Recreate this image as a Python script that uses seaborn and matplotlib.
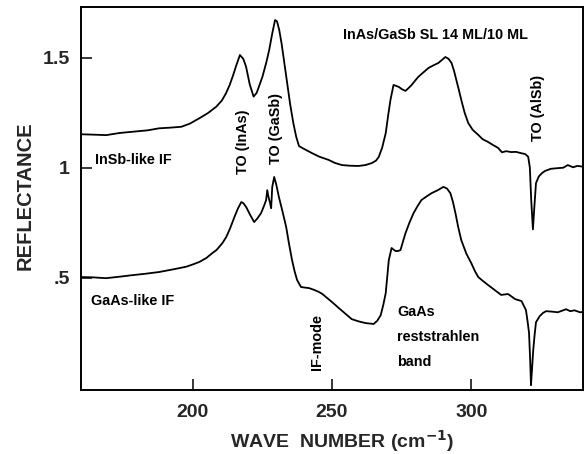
import matplotlib
matplotlib.use("Agg")
import matplotlib.pyplot as plt
import numpy as np
import pandas as pd
import seaborn as sns

# Wave number (cm^-1) and reflectance for the two interface configurations
wn_insb = [160, 165, 169, 174, 179, 184, 188, 192, 196, 199, 202.5, 205.5, 208.5,
           210.5, 212, 213.3, 214.4, 215.7, 217, 218.2, 219.2, 220.5, 221.9, 223,
           224, 225.1, 226.5, 227.5, 228.6, 229.6, 230.3, 231.1, 232, 233, 234, 235,
           236.2, 237.2, 238.2, 240.5, 242.9, 245.5, 248.9, 251, 253.6, 256.5, 259.6,
           262, 264.3, 265.8, 266.8, 268, 269.3, 270.2, 271, 272.1, 273, 274, 275.2,
           276.4, 277.5, 278.6, 280, 281, 282.8, 284.6, 286.4, 288.2, 289.5, 290.7,
           291.8, 292.9, 293.8, 294.6, 295.5, 296.4, 297.6, 298.9, 300.5, 302.5, 304,
           306, 307.8, 309.6, 311, 312.5, 314.3, 316, 317.9, 319.3, 320.4, 321, 321.5,
           322.1, 322.6, 323.2, 324.2, 325.3, 326.4, 328.5, 331, 333, 334.6, 336.5,
           338, 340]
r_insb = [1.152, 1.150, 1.148, 1.158, 1.164, 1.170, 1.179, 1.182, 1.186, 1.200, 1.225,
          1.248, 1.277, 1.305, 1.338, 1.375, 1.414, 1.465, 1.512, 1.495, 1.459, 1.380,
          1.323, 1.340, 1.375, 1.414, 1.480, 1.535, 1.610, 1.671, 1.665, 1.626, 1.560,
          1.470, 1.380, 1.290, 1.200, 1.140, 1.098, 1.082, 1.066, 1.050, 1.035, 1.022,
          1.012, 1.009, 1.008, 1.012, 1.021, 1.032, 1.049, 1.090, 1.157, 1.240, 1.308,
          1.376, 1.372, 1.367, 1.356, 1.349, 1.362, 1.376, 1.398, 1.413, 1.433, 1.453,
          1.465, 1.476, 1.490, 1.503, 1.495, 1.476, 1.440, 1.400, 1.355, 1.308, 1.250,
          1.203, 1.172, 1.149, 1.130, 1.117, 1.103, 1.090, 1.070, 1.075, 1.071, 1.072,
          1.066, 1.062, 1.050, 1.000, 0.850, 0.720, 0.820, 0.930, 0.960, 0.975, 0.985,
          0.995, 0.998, 1.000, 1.012, 1.002, 1.008, 1.005]

wn_gaas = [160, 164, 169, 174, 178.6, 183, 188, 193, 197.7, 200, 202.5, 205, 207.1,
           208.6, 210.7, 212.1, 213.5, 215, 216.3, 217.5, 218.3, 219.3, 220.7, 222.1,
           223.3, 224.6, 225.6, 226.4, 226.8, 227.2, 227.8, 228.2, 228.6, 229.3, 230.1,
           231, 232.3, 233.6, 234.6, 235.7, 236.6, 237.5, 238.9, 240.5, 241.8, 243.6,
           245.4, 246.7, 247.9, 250, 252.5, 254.8, 257.1, 259.5, 262.1, 263.5, 265,
           266.3, 267.5, 268.4, 269.3, 270.4, 271.4, 272.1, 272.9, 273.8, 274.6, 275.5,
           276.4, 277.8, 279.3, 280.7, 282.1, 284, 285.7, 288, 290, 291.3, 292.5, 293.4,
           294.3, 295.3, 296.4, 298.2, 300, 301.3, 302.5, 304.2, 306, 308.3, 310.7,
           313.2, 315.7, 318, 319.6, 320.2, 320.7, 321.1, 321.4, 321.8, 322.2, 322.7,
           323.2, 324.5, 325.7, 326.8, 329, 331, 332.5, 334, 335.5, 337, 339, 340]
r_gaas = [0.503, 0.502, 0.498, 0.505, 0.512, 0.518, 0.526, 0.538, 0.550, 0.560, 0.572,
          0.590, 0.612, 0.626, 0.657, 0.685, 0.725, 0.775, 0.815, 0.844, 0.838, 0.820,
          0.785, 0.753, 0.770, 0.794, 0.825, 0.853, 0.898, 0.870, 0.840, 0.816, 0.913,
          0.958, 0.920, 0.866, 0.800, 0.730, 0.655, 0.580, 0.530, 0.490, 0.458, 0.455,
          0.453, 0.445, 0.435, 0.425, 0.412, 0.390, 0.362, 0.337, 0.312, 0.302, 0.294,
          0.292, 0.290, 0.305, 0.330, 0.375, 0.430, 0.580, 0.635, 0.628, 0.621, 0.622,
          0.626, 0.665, 0.703, 0.750, 0.794, 0.825, 0.853, 0.870, 0.884, 0.898, 0.913,
          0.905, 0.884, 0.845, 0.794, 0.730, 0.671, 0.610, 0.566, 0.530, 0.503, 0.485,
          0.467, 0.445, 0.422, 0.426, 0.403, 0.394, 0.353, 0.300, 0.250, 0.130, 0.012,
          0.090, 0.170, 0.240, 0.298, 0.325, 0.340, 0.348, 0.346, 0.343, 0.350, 0.357,
          0.348, 0.352, 0.343, 0.345]

y_ticks = [0.5, 1.0, 1.5]
y_tick_labels = [".5", "1", "1.5"]
x_ticks = [200, 250, 300]

sns.set_style("ticks")
plt.rcParams["font.family"] = ["Liberation Sans", "DejaVu Sans"]
plt.rcParams["font.weight"] = "bold"
plt.rcParams["mathtext.default"] = "bf"

fig = plt.figure(figsize=(5.84, 4.54), dpi=100)
ax = fig.add_axes([0.1387, 0.141, 0.998 - 0.1387, 0.9835 - 0.141])

df_insb = pd.DataFrame({"wn": wn_insb, "R": r_insb})
df_gaas = pd.DataFrame({"wn": wn_gaas, "R": r_gaas})
sns.lineplot(data=df_insb, x="wn", y="R", color="black", linewidth=1.3,
             estimator=None, ax=ax)
sns.lineplot(data=df_gaas, x="wn", y="R", color="black", linewidth=1.3,
             estimator=None, ax=ax)

ax.set_xlim(160, 340)
ax.set_ylim(-0.01, 1.728)
ax.set_xticks(x_ticks)
ax.set_yticks(y_ticks)
ax.set_yticklabels(y_tick_labels)
ax.tick_params(axis="both", direction="in", length=8, width=1.3,
               labelsize=14)
ax.tick_params(axis="x", pad=10)
ax.tick_params(axis="y", pad=8)
for lbl in ax.get_xticklabels() + ax.get_yticklabels():
    lbl.set_fontweight("bold")
for s in ax.spines.values():
    s.set_linewidth(1.4)
    s.set_color("black")

ax.set_xlabel("WAVE  NUMBER (cm$^{-1}$)", fontsize=14, fontweight="bold",
              va="center")
ax.set_ylabel("REFLECTANCE", fontsize=14.5, fontweight="bold", va="center")
ax.xaxis.set_label_coords(0.52, -0.133)
ax.yaxis.set_label_coords(-0.111, 0.507)

txt = dict(fontsize=10.4, fontweight="bold", color="black")
ax.text(287, 1.603, "InAs/GaSb SL 14 ML/10 ML", ha="center", va="center", **txt)
ax.text(217.95, 1.12, "TO (InAs)", rotation=90, ha="center", va="center", **txt)
ax.text(229.9, 1.177, "TO (GaSb)", rotation=90, ha="center", va="center", **txt)
ax.text(324, 1.271, "TO (AlSb)", rotation=90, ha="center", va="center", **txt)
ax.text(244.5, 0.209, "IF-mode", rotation=90, ha="center", va="center", **txt)
ax.text(165, 1.035, "InSb-like IF", ha="left", va="center", **txt)
ax.text(163.6, 0.394, "GaAs-like IF", ha="left", va="center", **txt)
ax.text(273.3, 0.345, "GaAs", ha="left", va="center", **txt)
ax.text(273.3, 0.232, "reststrahlen", ha="left", va="center", **txt)
ax.text(273.3, 0.118, "band", ha="left", va="center", **txt)

fig.savefig("out.png", dpi=100)
